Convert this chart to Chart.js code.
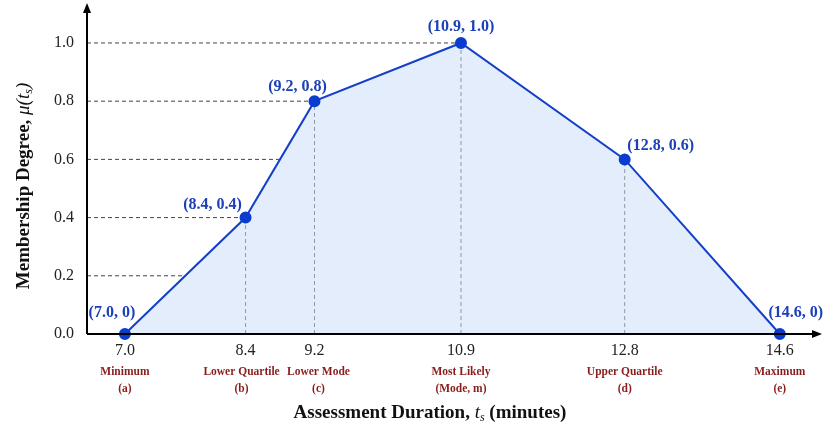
<!DOCTYPE html>
<html>
<head>
<meta charset="utf-8">
<script src="https://cdn.jsdelivr.net/npm/chart.js@4.4.0/dist/chart.umd.min.js"></script>
<style>
  html, body { margin: 0; padding: 0; background: #fff; }
  #wrap { width: 823px; height: 428px; }
</style>
</head>
<body>
<div id="wrap"><canvas id="fuzzyChart" width="823" height="428"></canvas></div>
<script>
// datos del número difuso (duración de la evaluación, minutos)
const xVals = [7.0, 8.4, 9.2, 10.9, 12.8, 14.6];
const muVals = [0, 0.4, 0.8, 1.0, 0.6, 0];
const pointLabels = ["(7.0, 0)", "(8.4, 0.4)", "(9.2, 0.8)", "(10.9, 1.0)", "(12.8, 0.6)", "(14.6, 0)"];
const stageNames = ["Minimum", "Lower Quartile", "Lower Mode", "Most Likely", "Upper Quartile", "Maximum"];
const stageCodes = ["(a)", "(b)", "(c)", "(Mode, m)", "(d)", "(e)"];
const yTicks = [0, 0.2, 0.4, 0.6, 0.8, 1.0];

const SERIF = "'Liberation Serif', 'DejaVu Serif', serif";
const BLUE = "#1440c8";
const DARKRED = "#8b1c1c";

// desplazamiento de cada etiqueta respecto a su punto (px)
const labelOffsets = [[-13, -21], [-33, -13], [-17, -14], [0, -16], [36, -14], [16, -21]];
// pequeño ajuste horizontal de los nombres para que no se pisen
const stageShift = [0, -4, 4, 0, 0, 0];

function drawRich(ctx, parts, x, y) {
  // parts: [{text, font, dy}] centrado en x
  let total = 0;
  parts.forEach(p => { ctx.font = p.font; total += ctx.measureText(p.text).width; });
  let cx = x - total / 2;
  ctx.textAlign = "left";
  ctx.textBaseline = "middle";
  parts.forEach(p => {
    ctx.font = p.font;
    ctx.fillText(p.text, cx, y + (p.dy || 0));
    cx += ctx.measureText(p.text).width;
  });
}

const guides = {
  id: "guides",
  beforeDatasetsDraw(chart) {
    const { ctx, chartArea, scales: { x, y } } = chart;
    ctx.save();
    ctx.lineWidth = 1;
    ctx.setLineDash([4, 3]);
    // horizontales: desde el eje hasta que cortan la línea (lado izquierdo)
    yTicks.forEach(t => {
      if (t <= 0) return;
      let xv = null;
      for (let i = 0; i < muVals.length - 1; i++) {
        if (muVals[i] < t && muVals[i + 1] >= t) {
          xv = xVals[i] + (t - muVals[i]) / (muVals[i + 1] - muVals[i]) * (xVals[i + 1] - xVals[i]);
          break;
        }
      }
      if (xv == null) return;
      ctx.strokeStyle = "#444";
      ctx.beginPath();
      ctx.moveTo(chartArea.left, y.getPixelForValue(t));
      ctx.lineTo(x.getPixelForValue(xv), y.getPixelForValue(t));
      ctx.stroke();
    });
    // verticales: del eje x a cada punto
    ctx.strokeStyle = "#666";
    xVals.forEach((v, i) => {
      if (muVals[i] <= 0) return;
      ctx.beginPath();
      ctx.moveTo(x.getPixelForValue(v), y.getPixelForValue(0));
      ctx.lineTo(x.getPixelForValue(v), y.getPixelForValue(muVals[i]));
      ctx.stroke();
    });
    ctx.restore();
  },
  afterDraw(chart) {
    const { ctx, chartArea, scales: { x, y } } = chart;
    const x0 = chartArea.left, y0 = y.getPixelForValue(0);
    ctx.save();
    // ejes con flechas
    ctx.strokeStyle = "#000";
    ctx.fillStyle = "#000";
    ctx.lineWidth = 2;
    ctx.beginPath();
    ctx.moveTo(x0, y0);
    ctx.lineTo(x0, 10);
    ctx.moveTo(x0, y0);
    ctx.lineTo(chart.width - 6, y0);
    ctx.stroke();
    ctx.beginPath();
    ctx.moveTo(x0, 3); ctx.lineTo(x0 - 4, 13); ctx.lineTo(x0 + 4, 13); ctx.closePath();
    ctx.fill();
    ctx.beginPath();
    const xe = chart.width - 1;
    ctx.moveTo(xe, y0); ctx.lineTo(xe - 10, y0 - 4); ctx.lineTo(xe - 10, y0 + 4); ctx.closePath();
    ctx.fill();

    // etiquetas de los puntos
    ctx.fillStyle = "#1c40b8";
    ctx.font = "bold 16px " + SERIF;
    ctx.textAlign = "center";
    ctx.textBaseline = "middle";
    xVals.forEach((v, i) => {
      const [dx, dy] = labelOffsets[i];
      ctx.fillText(pointLabels[i], x.getPixelForValue(v) + dx, y.getPixelForValue(muVals[i]) + dy);
    });

    // nombres de las etapas bajo el eje x
    ctx.fillStyle = DARKRED;
    ctx.font = "bold 11.5px " + SERIF;
    xVals.forEach((v, i) => {
      const px = x.getPixelForValue(v) + stageShift[i];
      ctx.fillText(stageNames[i], px, 372);
      ctx.fillText(stageCodes[i], px, 389);
    });

    // títulos de los ejes
    ctx.fillStyle = "#111";
    const bold = "bold 19px " + SERIF;
    const ital = "italic 19px " + SERIF;
    const sub = "italic 12px " + SERIF;
    drawRich(ctx, [
      { text: "Assessment Duration, ", font: bold },
      { text: "t", font: ital },
      { text: "s", font: sub, dy: 5 },
      { text: " (minutes)", font: bold }
    ], 430, 413);

    ctx.translate(24, 186);
    ctx.rotate(-Math.PI / 2);
    drawRich(ctx, [
      { text: "Membership Degree, ", font: bold },
      { text: "\u03bc(", font: ital },
      { text: "t", font: ital },
      { text: "s", font: sub, dy: 5 },
      { text: ")", font: ital }
    ], 0, 0);
    ctx.restore();
  }
};

new Chart(document.getElementById("fuzzyChart"), {
  type: "line",
  data: {
    datasets: [{
      data: xVals.map((v, i) => ({ x: v, y: muVals[i] })),
      borderColor: BLUE,
      borderWidth: 2,
      backgroundColor: "rgba(196, 216, 246, 0.45)",
      fill: "origin",
      pointRadius: 5,
      pointBackgroundColor: "#0a3cd0",
      pointBorderColor: "#0a3cd0",
      tension: 0,
      clip: false
    }]
  },
  options: {
    responsive: false,
    animation: false,
    devicePixelRatio: 1,
    layout: { padding: { top: 0, right: 5, left: 0, bottom: 0 } },
    plugins: { legend: { display: false }, tooltip: { enabled: false } },
    scales: {
      x: {
        type: "linear",
        min: 6.56,
        max: 15.02,
        afterBuildTicks: s => { s.ticks = xVals.map(v => ({ value: v })); },
        afterFit: s => { s.height = 94; },
        grid: { display: false, drawTicks: false },
        border: { display: false },
        ticks: {
          autoSkip: false,
          maxRotation: 0,
          padding: 7,
          color: "#222",
          font: { family: SERIF, size: 16 },
          callback: v => Number(v).toFixed(1)
        }
      },
      y: {
        min: 0,
        max: 1.07,
        afterBuildTicks: s => { s.ticks = yTicks.map(v => ({ value: v })); },
        afterFit: s => { s.width = 87; },
        grid: { display: false, drawTicks: false },
        border: { display: false },
        ticks: {
          padding: 13,
          color: "#222",
          font: { family: SERIF, size: 16 },
          callback: v => Number(v).toFixed(1)
        }
      }
    }
  },
  plugins: [guides]
});
</script>
</body>
</html>
